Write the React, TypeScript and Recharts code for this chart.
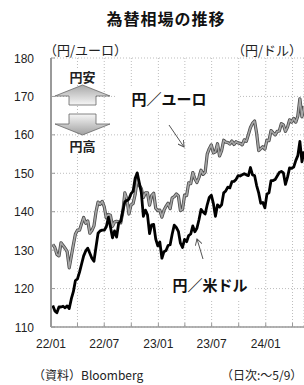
import { LineChart, Line, XAxis, YAxis, CartesianGrid } from "recharts";

// weekly closes (Fridays), 2022/01/07 .. 2024/05/10
const FIRST_DAY = 6; // 2022/01/07 as days from 2022/01/01
const STEP = 7;

const usdJpy = [
  // 2022
  115.6, 114.2, 113.7, 115.2, 115.2, 115.4, 115.0, 115.5, 114.8, 117.3, 119.2, 122.1, 122.5,
  124.3, 126.4, 128.5, 129.8, 130.5, 129.2, 127.9, 127.1, 130.8, 134.4, 135.0, 135.2, 135.2,
  136.1, 138.5, 136.1, 133.2, 135.0, 133.4, 137.0, 137.5, 140.2, 142.6, 142.9, 143.3, 144.7,
  145.3, 148.7, 150.1, 147.6, 145.0, 138.8, 140.4, 139.2, 134.3, 136.6, 136.7, 132.9, 131.1,
  // 2023
  132.1, 127.9, 129.6, 129.9, 131.2, 131.4, 134.2, 136.5, 135.9, 134.9, 131.8, 130.7, 132.8,
  132.2, 133.8, 134.2, 136.3, 134.8, 135.7, 137.9, 140.6, 139.9, 139.4, 141.8, 143.7, 144.3,
  142.1, 138.8, 141.8, 141.2, 141.8, 144.9, 145.4, 146.4, 146.2, 147.8, 147.9, 148.4, 149.4,
  149.3, 149.6, 149.9, 149.6, 149.4, 151.5, 149.6, 149.4, 146.8, 144.9, 142.2, 142.4, 141.0,
  // 2024
  144.6, 144.9, 148.1, 148.1, 148.4, 149.3, 150.2, 150.5, 150.1, 147.1, 149.0, 151.4, 151.3,
  151.6, 153.3, 154.6, 158.3, 153.0, 155.7,
];

const eurJpy = [
  // 2022
  131.5, 130.7, 128.9, 128.5, 131.9, 131.2, 130.5, 129.6, 125.4, 128.4, 131.4, 134.2, 135.2,
  135.2, 136.9, 138.5, 137.0, 137.6, 134.4, 135.1, 136.3, 140.0, 142.5, 141.9, 142.7, 141.3,
  138.4, 139.3, 139.1, 136.2, 137.3, 137.5, 137.4, 137.1, 139.9, 144.9, 143.3, 139.4, 141.8,
  142.1, 144.5, 148.4, 146.9, 146.0, 143.7, 144.9, 144.9, 141.7, 144.2, 144.8, 140.9, 140.3,
  // 2023
  140.4, 138.6, 140.4, 141.4, 142.2, 140.8, 143.6, 143.9, 144.6, 144.1, 140.3, 140.6, 144.3,
  144.2, 147.5, 147.3, 150.2, 148.6, 147.6, 148.9, 150.8, 149.7, 150.3, 155.0, 156.4, 157.4,
  155.3, 155.6, 157.7, 154.5, 155.9, 158.6, 158.1, 158.0, 157.6, 158.4, 157.5, 158.2, 157.9,
  157.8, 157.4, 158.7, 158.3, 160.1, 161.9, 163.0, 163.6, 160.4, 155.9, 156.4, 156.9, 156.3,
  // 2024
  158.6, 158.5, 161.1, 160.5, 160.0, 160.9, 161.0, 162.9, 162.6, 160.9, 162.0, 163.9, 163.3,
  164.3, 163.3, 164.9, 169.4, 164.7, 167.5,
];

// quarter starts, days from 2022/01/01
const xTicks = [0, 90, 181, 273, 365, 455, 546, 638, 730, 821];
const xTickLabels: Record<number, string> = {
  0: "22/01", 181: "22/07", 365: "23/01", 546: "23/07", 730: "24/01",
};
const yTicks = [110, 120, 130, 140, 150, 160, 170, 180];

const data = usdJpy.map((usd, i) => ({
  day: FIRST_DAY + STEP * i,
  usd,
  eur: eurJpy[i],
}));

const NUM_FONT = "'Liberation Sans', Arial, sans-serif";
const JP_FONT = "'Noto Sans CJK JP', 'Noto Sans', sans-serif";
const AXIS = "#9a9a9a";

const YTick = ({ x, y, payload }: any) => (
  <g>
    <line x1={x} y1={y} x2={x + 4} y2={y} stroke={AXIS} />
    <text x={x - 17} y={y} dy={4.5} textAnchor="end" fontSize={12} fill="#222" fontFamily={NUM_FONT}>
      {payload.value}
    </text>
  </g>
);

const XTick = ({ x, y, payload }: any) => (
  <g>
    <line x1={x} y1={y} x2={x} y2={y - 4} stroke={AXIS} />
    {xTickLabels[payload.value] && (
      <text x={x} y={y + 21} textAnchor="middle" fontSize={12} fill="#222" fontFamily={NUM_FONT}>
        {xTickLabels[payload.value]}
      </text>
    )}
  </g>
);

const TopTick = ({ x, y }: any) => <line x1={x} y1={y} x2={x} y2={y + 4} stroke={AXIS} />;

function Overlay() {
  return (
    <svg width={304} height={385} style={{ position: "absolute", left: 0, top: 0, pointerEvents: "none" }}>
      <defs>
        <linearGradient id="gUp" x1="0" y1="0" x2="0" y2="1">
          <stop offset="0%" stopColor="#a8a8a8" />
          <stop offset="100%" stopColor="#f6f6f6" />
        </linearGradient>
        <linearGradient id="gDown" x1="0" y1="0" x2="0" y2="1">
          <stop offset="0%" stopColor="#f6f6f6" />
          <stop offset="100%" stopColor="#a0a0a0" />
        </linearGradient>
        <marker id="ah" markerWidth={7} markerHeight={7} refX={6} refY={3.5} orient="auto">
          <path d="M0,0 L6,3.5 L0,7" fill="none" stroke="#555" strokeWidth={1} />
        </marker>
      </defs>

      <text x={166} y={25} textAnchor="middle" fontSize={16} fontWeight="bold" letterSpacing={1} fontFamily={JP_FONT} fill="#111">
        為替相場の推移
      </text>
      <text x={44} y={55} fontSize={13} fontFamily={JP_FONT} fill="#222">（円/ユーロ）</text>
      <text x={232} y={55} fontSize={13} fontFamily={JP_FONT} fill="#222">（円/ドル）</text>

      {/* 円安 / 円高 arrows */}
      <rect x={67} y={70} width={31} height={15} fill="#fff" />
      <text x={82.5} y={82} textAnchor="middle" fontSize={13} fontWeight="bold" fontFamily={JP_FONT} fill="#222">円安</text>
      <polygon points="82.5,85 110,96 96,96 96,105 69,105 69,96 55,96" fill="url(#gUp)" stroke="#666" strokeWidth={0.8} />
      <polygon points="69,114 96,114 96,124 110,124 82.5,135 55,124 69,124" fill="url(#gDown)" stroke="#666" strokeWidth={0.8} />
      <rect x={67} y={137} width={31} height={16} fill="#fff" />
      <text x={82.5} y={151} textAnchor="middle" fontSize={13} fontWeight="bold" fontFamily={JP_FONT} fill="#222">円高</text>

      {/* series labels */}
      <rect x={117} y={88} width={121} height={22} fill="#fff" />
      <text x={169} y={105} textAnchor="middle" fontSize={15} fontWeight="bold" fontFamily={JP_FONT} fill="#111">円／ユーロ</text>
      <line x1={169} y1={125} x2={184} y2={147} stroke="#555" strokeWidth={1} markerEnd="url(#ah)" />

      <rect x={165} y={273} width={90} height={27} fill="#fff" />
      <text x={210} y={291} textAnchor="middle" fontSize={15} fontWeight="bold" fontFamily={JP_FONT} fill="#111">円／米ドル</text>
      <line x1={203} y1={259} x2={197} y2={239} stroke="#555" strokeWidth={1} markerEnd="url(#ah)" />

      <text x={33} y={380} fontSize={12} fontFamily={JP_FONT} fill="#222">（資料）Bloomberg</text>
      <text x={221} y={380} fontSize={12} fontFamily={JP_FONT} fill="#222">（日次:～5/9）</text>
    </svg>
  );
}

export default function App() {
  return (
    <div style={{ position: "relative", width: 304, height: 385, background: "#fff", overflow: "hidden" }}>
      <style>{"body{margin:0}"}</style>
      <LineChart width={304} height={385} data={data} margin={{ top: 58, right: 0, bottom: 0, left: 0 }}>
        <CartesianGrid stroke="#bdbdbd" strokeDasharray="1 2" />
        <XAxis
          type="number"
          dataKey="day"
          domain={[0, 860]}
          ticks={xTicks}
          height={58}
          tickSize={0}
          tickMargin={0}
          tick={<XTick />}
          axisLine={{ stroke: AXIS, strokeWidth: 1.5 }}
          tickLine={false}
          interval={0}
        />
        <XAxis
          xAxisId="top"
          orientation="top"
          type="number"
          dataKey="day"
          domain={[0, 860]}
          ticks={xTicks}
          height={0}
          tickSize={0}
          tickMargin={0}
          tick={<TopTick />}
          axisLine={{ stroke: AXIS, strokeWidth: 1.5 }}
          tickLine={false}
          interval={0}
        />
        <YAxis
          domain={[110, 180]}
          ticks={yTicks}
          width={51}
          tickSize={0}
          tickMargin={0}
          tick={<YTick />}
          axisLine={{ stroke: AXIS, strokeWidth: 2 }}
          tickLine={false}
          interval={0}
        />
        <Line dataKey="eur" stroke="#4a4a4a" strokeWidth={3.2} dot={false} isAnimationActive={false} strokeLinejoin="round" />
        <Line dataKey="eur" stroke="#a6a6a6" strokeWidth={1.6} dot={false} isAnimationActive={false} strokeLinejoin="round" />
        <Line dataKey="usd" stroke="#000" strokeWidth={2.8} dot={false} isAnimationActive={false} strokeLinejoin="round" />
      </LineChart>
      <Overlay />
    </div>
  );
}
